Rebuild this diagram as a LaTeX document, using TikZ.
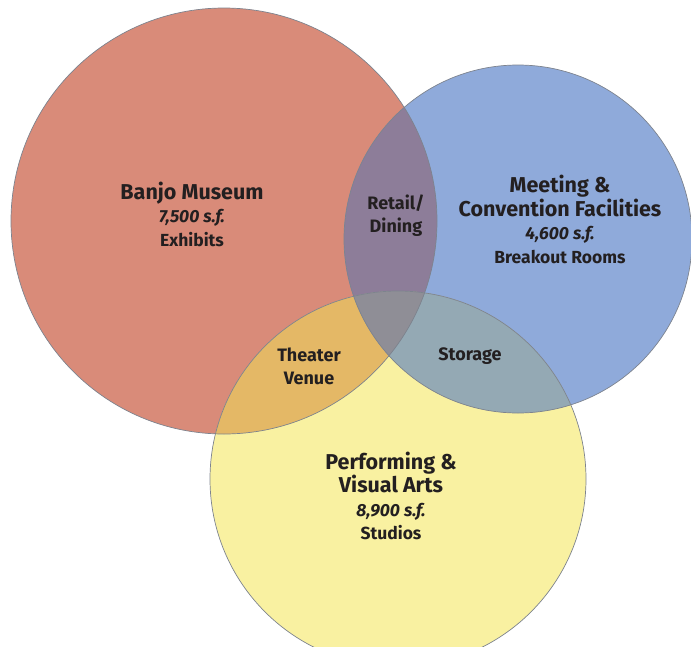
\documentclass[tikz,border=0pt]{standalone}
\usepackage{fontspec}
\setmainfont{Fira Sans}
\definecolor{cred}{HTML}{D98B79}
\definecolor{cblue}{HTML}{8FAADA}
\definecolor{cyellow}{HTML}{F9F1A1}
\definecolor{crb}{HTML}{8D7D99}
\definecolor{cry}{HTML}{E4B866}
\definecolor{cby}{HTML}{94A9B4}
\definecolor{crby}{HTML}{8F8E96}
\definecolor{cline}{HTML}{7D838E}
\definecolor{ctext}{HTML}{231F20}
\tikzset{
  outline/.style={draw=cline, line width=0.7pt},
  lbl/.style={align=center, text=ctext, inner sep=0pt, font=\bfseries\fontsize{17.5}{23.5}\selectfont},
  small/.style={align=center, text=ctext, inner sep=0pt, font=\bfseries\fontsize{18}{23}\selectfont},
}
\newcommand{\redc}{(224,221) circle [radius=213pt]}
\newcommand{\bluec}{(518,239) circle [radius=174pt]}
\newcommand{\yelc}{(398,479) circle [radius=188pt]}
\begin{document}
\begin{tikzpicture}[x=1pt,y=-1pt]
\useasboundingbox (0,0) rectangle (691,646);
\clip (0,0) rectangle (691,646);
\fill[cred] \redc;
\fill[cblue] \bluec;
\fill[cyellow] \yelc;
\begin{scope}\clip \redc; \fill[crb] \bluec; \end{scope}
\begin{scope}\clip \redc; \fill[cry] \yelc; \end{scope}
\begin{scope}\clip \bluec; \fill[cby] \yelc; \end{scope}
\begin{scope}\clip \redc; \clip \bluec; \fill[crby] \yelc; \end{scope}
\draw[outline] \redc;
\draw[outline] \bluec;
\draw[outline] \yelc;
\node[lbl] (banjo) at (192,214) {{\fontsize{21.5}{24}\selectfont Banjo Museum}\\{\itshape 7,500 s.f.}\\Exhibits};
\node[lbl] (meeting) at (560,219.5) {{\fontsize{21.5}{26}\selectfont Meeting \&}\\{\fontsize{21.5}{26}\selectfont Convention Facilities}\\{\itshape 4,600 s.f.}\\Breakout Rooms};
\node[small] (retail) at (396,216) {Retail/\\Dining};
\node[small] (theater) at (309,366) {Theater\\Venue};
\node[small] (storage) at (470,356) {Storage};
\node[lbl] (perf) at (391,496) {{\fontsize{21.5}{26}\selectfont Performing \&}\\{\fontsize{21.5}{26}\selectfont Visual Arts}\\{\itshape 8,900 s.f.}\\Studios};
\end{tikzpicture}
\end{document}
